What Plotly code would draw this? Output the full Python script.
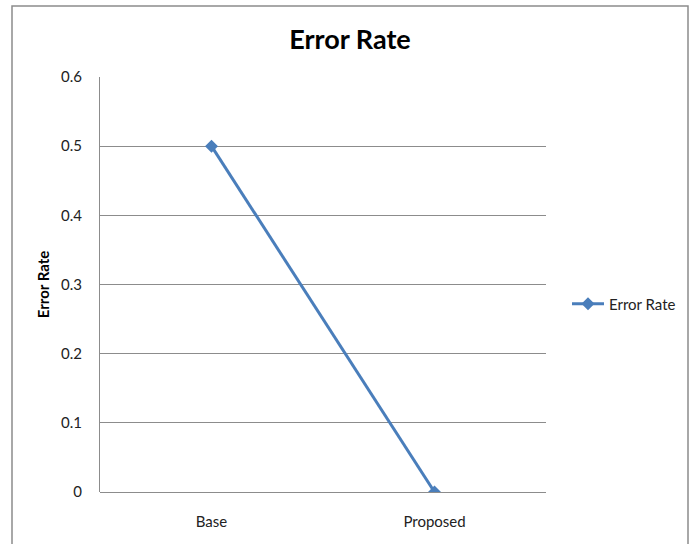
import plotly.graph_objects as go

categories = ["Base", "Proposed"]
error_rate = [0.5, 0.0]
y_ticks = [0, 0.1, 0.2, 0.3, 0.4, 0.5, 0.6]
y_tick_labels = ["0", "0.1", "0.2", "0.3", "0.4", "0.5", "0.6"]

FONT = "Lato, Open Sans, sans-serif"
BLUE = "#4A7EBB"

fig = go.Figure()
fig.add_trace(go.Scatter(
    x=categories, y=error_rate, name="Error Rate",
    mode="lines+markers",
    line=dict(color=BLUE, width=3),
    marker=dict(symbol="diamond", size=10, color=BLUE),
))

fig.update_layout(
    width=696, height=544,
    margin=dict(l=100, r=150, t=77, b=52),
    paper_bgcolor="white", plot_bgcolor="white",
    font=dict(family=FONT, size=15, color="#222"),
    title=dict(text="<b>Error Rate</b>", x=350 / 696, xanchor="center",
               y=1 - 40 / 544, yanchor="middle",
               font=dict(size=27, color="#000", family=FONT)),
    showlegend=True,
    legend=dict(x=(567 - 100) / 446, xanchor="left", y=(492 - 304) / 415, yanchor="middle",
                font=dict(size=15, color="#222"), bgcolor="rgba(0,0,0,0)",
                itemwidth=32),
    xaxis=dict(
        type="category", range=[-0.5, 1.5], showgrid=False,
        showline=False, zeroline=False, ticks="",
        ticklabelstandoff=19, tickfont=dict(size=15, color="#222"),
    ),
    yaxis=dict(
        range=[0, 0.6], tickvals=y_ticks, ticktext=y_tick_labels,
        showgrid=True, gridcolor="#8c8c8c", gridwidth=1,
        showline=True, linecolor="#8c8c8c", linewidth=1,
        zeroline=True, zerolinecolor="#8c8c8c", zerolinewidth=1,
        ticks="", ticklabelstandoff=14, tickfont=dict(size=15, color="#222"),
        title=dict(text="<b>Error Rate</b>", font=dict(size=15, color="#000"), standoff=7),
    ),
    shapes=[dict(type="rect", xref="paper", yref="paper",
                 x0=(12 - 100) / 446, x1=(688 - 100) / 446,
                 y0=(492 - 560) / 415, y1=(492 - 6) / 415,
                 line=dict(color="#8c8c8c", width=1.5), fillcolor="rgba(0,0,0,0)",
                 layer="below")],
)

fig.write_html("out.html", config={"displayModeBar": False},
               post_script="document.body.style.margin='0px';document.body.style.overflow='hidden';")
